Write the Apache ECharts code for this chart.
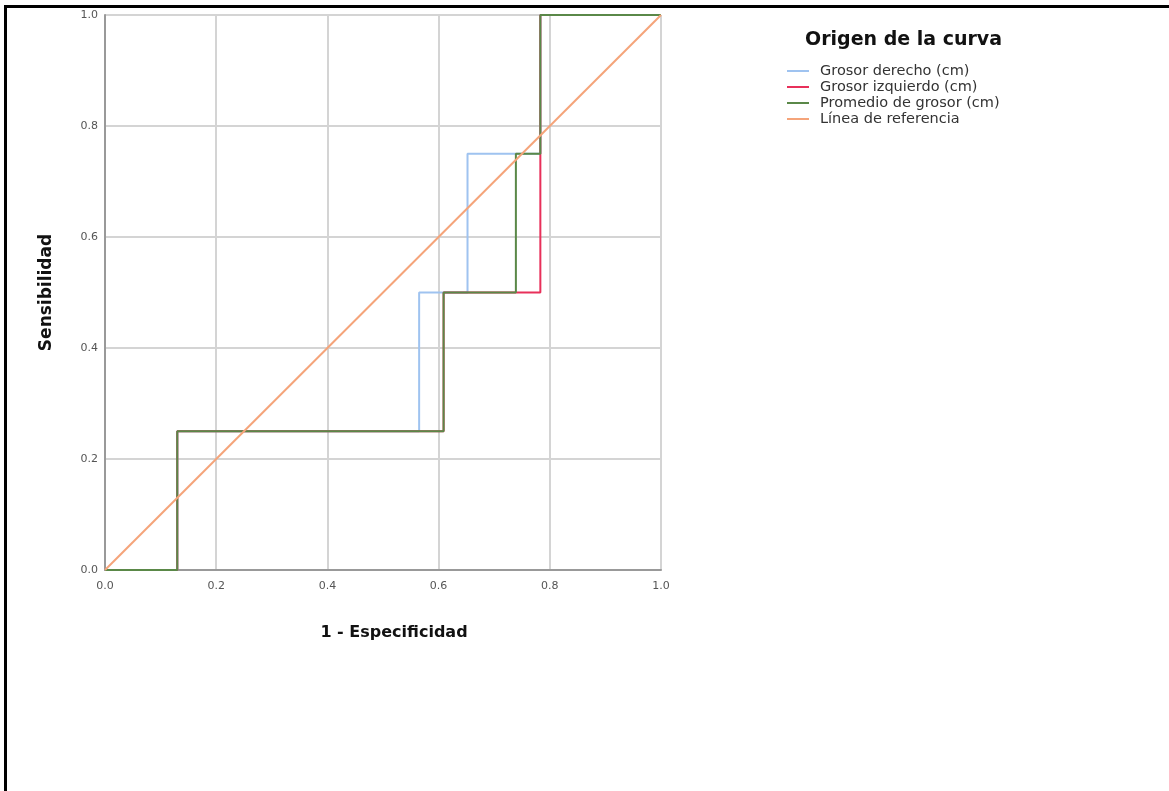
<!DOCTYPE html>
<html>
<head>
<meta charset="utf-8">
<script src="https://cdn.jsdelivr.net/npm/echarts@6/dist/echarts.min.js"></script>
<style>
html,body{margin:0;padding:0;background:#fff;}
#chart{width:1169px;height:791px;}
#frame{position:absolute;left:4px;top:5px;width:1165px;height:786px;border-left:3px solid #000;border-top:3px solid #000;pointer-events:none;box-sizing:border-box;}
</style>
</head>
<body>
<div id="chart"></div>
<div id="frame"></div>
<script>
// Data
const seriesNames = ['Grosor derecho (cm)', 'Grosor izquierdo (cm)', 'Promedio de grosor (cm)', 'Línea de referencia'];
const xTicks = [0, 0.2, 0.4, 0.6, 0.8, 1.0];
const grosorDerecho = [[0,0],[0.130,0],[0.130,0.25],[0.565,0.25],[0.565,0.5],[0.652,0.5],[0.652,0.75],[0.783,0.75],[0.783,1],[1,1]];
const grosorIzquierdo = [[0,0],[0.130,0],[0.130,0.25],[0.609,0.25],[0.609,0.5],[0.783,0.5],[0.783,1],[1,1]];
const promedioGrosor = [[0,0],[0.130,0],[0.130,0.25],[0.609,0.25],[0.609,0.5],[0.739,0.5],[0.739,0.75],[0.783,0.75],[0.783,1],[1,1]];
const lineaReferencia = [[0,0],[1,1]];

const colors = ['#9fc3f0', '#e8305a', '#5a8848', '#f5a47a'];
const FONT = 'DejaVu Sans, sans-serif';

const chart = echarts.init(document.getElementById('chart'));
const mk = (name, data, color, opacity, z) => ({
  name, type: 'line', data, symbol: 'none', z,
  lineStyle: { color, width: 2, opacity },
  itemStyle: { color, opacity },
  emphasis: { disabled: true }
});
chart.setOption({
  animation: false,
  backgroundColor: '#fff',
  textStyle: { fontFamily: FONT },
  grid: { left: 105, top: 15, width: 556, height: 555 },
  title: {
    text: 'Origen de la curva', left: 800, top: 26,
    textStyle: { fontSize: 19, fontWeight: 'bold', color: '#111', fontFamily: FONT }
  },
  legend: {
    orient: 'vertical', left: 782, top: 58,
    itemWidth: 22, itemHeight: 2, itemGap: 0,
    icon: 'rect',
    data: seriesNames,
    textStyle: { fontSize: 14.5, lineHeight: 16, color: '#333', padding: [0,0,0,6], fontFamily: FONT },
    selectedMode: false
  },
  xAxis: {
    type: 'value', min: 0, max: 1, interval: 0.2,
    name: '1 - Especificidad', nameLocation: 'middle', nameGap: 55,
    nameTextStyle: { fontSize: 16, fontWeight: 'bold', color: '#111', fontFamily: FONT, padding: [0,0,0,22] },
    axisLine: { show: true, lineStyle: { color: '#999', width: 2 } },
    axisTick: { show: false },
    axisLabel: { fontSize: 11, color: '#555', margin: 11, formatter: v => v.toFixed(1), fontFamily: FONT },
    splitLine: { show: true, lineStyle: { color: '#d4d4d4', width: 2 } }
  },
  yAxis: {
    type: 'value', min: 0, max: 1, interval: 0.2,
    name: 'Sensibilidad', nameLocation: 'middle', nameGap: 50, nameRotate: 90,
    nameTextStyle: { fontSize: 17, fontWeight: 'bold', color: '#111', fontFamily: FONT },
    axisLine: { show: true, lineStyle: { color: '#999', width: 2 } },
    axisTick: { show: false },
    axisLabel: { fontSize: 11, color: '#555', margin: 7, formatter: v => v.toFixed(1), fontFamily: FONT },
    splitLine: { show: true, lineStyle: { color: '#d4d4d4', width: 2 } }
  },
  series: [
    mk(seriesNames[0], grosorDerecho, colors[0], 1, 2),
    mk(seriesNames[1], grosorIzquierdo, colors[1], 1, 3),
    mk(seriesNames[2], promedioGrosor, colors[2], 1, 4),
    mk(seriesNames[3], lineaReferencia, colors[3], 1, 5)
  ]
});
</script>
</body>
</html>
